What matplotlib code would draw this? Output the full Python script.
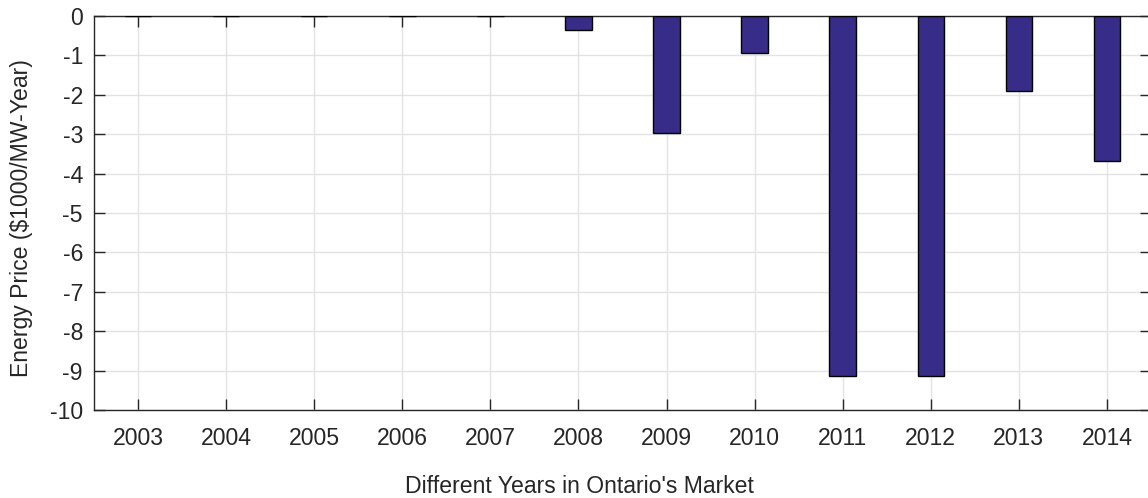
import matplotlib
matplotlib.use("Agg")
import matplotlib.pyplot as plt

# years and yearly energy price (in $1000/MW-Year)
years = [2003, 2004, 2005, 2006, 2007, 2008, 2009, 2010, 2011, 2012, 2013, 2014]
price = [0, 0, 0, 0, 0, -0.35, -2.97, -0.93, -9.13, -9.13, -1.91, -3.68]
y_ticks = list(range(-10, 1))

plt.rcParams['font.family'] = ['Liberation Sans', 'DejaVu Sans']
text_col = '#262626'
fs = 16.6

fig = plt.figure(figsize=(11.48, 4.98), dpi=100)
ax = fig.add_axes([94 / 1148, 1 - 410 / 498, (1151 - 94) / 1148, (410 - 16) / 498])

ax.bar(years, price, width=0.3, color='#372c87', edgecolor='black', linewidth=1, zorder=3)

ax.set_xlim(2002.5, 2014.5)
ax.set_ylim(-10, 0)
ax.set_xticks(years)
ax.set_xticklabels([str(y) for y in years])
ax.set_yticks(y_ticks)
ax.set_yticklabels([str(t) for t in y_ticks])

ax.grid(True, color='#e3e3e3', linewidth=1, zorder=0)
ax.set_axisbelow(True)
ax.tick_params(direction='in', length=8, width=1, color=text_col,
               top=True, right=True, labelsize=fs, labelcolor=text_col)
ax.tick_params(axis='x', pad=12)
ax.tick_params(axis='y', pad=8)
for s in ax.spines.values():
    s.set_color(text_col)
    s.set_linewidth(1)

# axis titles placed in figure pixels, as in the original export
fig.text(579 / 1148, 1 - 493 / 498, "Different Years in Ontario's Market",
         fontsize=fs, color=text_col, ha='center', va='baseline')
fig.text(22 / 1148, 1 - 218 / 498, "Energy Price ($1000/MW-Year)",
         fontsize=fs, color=text_col, ha='center', va='center', rotation=90)

fig.savefig("out.png", dpi=100)
